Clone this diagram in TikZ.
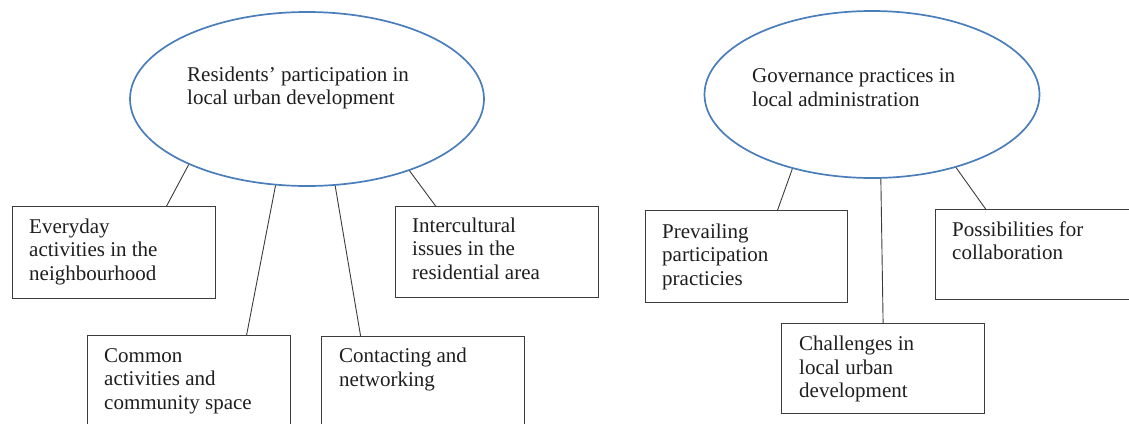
\documentclass[tikz,border=0pt]{standalone}
\usepackage{fontspec}
\setmainfont{Liberation Serif}
\usepackage{tikz}
\usetikzlibrary{shapes.geometric}
\usepackage{xcolor}

\definecolor{ellblue}{RGB}{74,126,187}
\definecolor{boxgray}{RGB}{60,60,60}
\definecolor{txtgray}{RGB}{30,30,30}

\tikzset{
  topic/.style={ellipse, draw=ellblue, line width=1.7pt, inner sep=0pt},
  itembox/.style={draw=boxgray, line width=1.2pt, anchor=north west, inner sep=0pt, minimum width=203pt, minimum height=92pt},
  itemtext/.style={anchor=base west, align=left, inner sep=0pt, text=txtgray, font=\fontsize{21}{23.5}\selectfont},
  link/.style={draw=boxgray, line width=0.9pt}
}

\begin{document}
\begin{tikzpicture}[x=1pt,y=-1pt]

\useasboundingbox (0,0) rectangle (1129,423);
\clip (0,0) rectangle (1129,423);

\node[topic, minimum width=354pt, minimum height=174pt] (res) at (307,99) {};
\node[itemtext] (restext) at (187,104.5) {Residents’ participation in\\local urban development};

\node[itembox] (every) at (12,206) {};
\node[itembox, minimum height=110pt] (common) at (87,335) {};
\node[itembox, minimum height=110pt] (contact) at (321,336) {};
\node[itembox, minimum height=91pt] (inter) at (395,206) {};

\node[itemtext] (everytext) at (29,280) {Everyday\\activities in the\\neighbourhood};
\node[itemtext] (commontext) at (104,409) {Common\\activities and\\community space};
\node[itemtext] (contacttext) at (339,386) {Contacting and\\networking};
\node[itemtext] (intertext) at (412,279) {Intercultural\\issues in the\\residential area};

\draw[link] (res.209.4) -- ([xshift=52.5pt]every.north);
\draw[link] (res.250) -- ([xshift=57.5pt]common.north);
\draw[link] (res.288.2) -- ([xshift=-62.5pt]contact.north);
\draw[link] (res.325.7) -- ([xshift=-61.5pt]inter.north);

\node[topic, minimum width=335pt, minimum height=167pt] (gov) at (872,94.5) {};
\node[itemtext] (govtext) at (752,106) {Governance practices in\\local administration};

\node[itembox, minimum width=202pt] (prevail) at (645,210) {};
\node[itembox, minimum height=90pt] (challenge) at (781,323) {};
\node[itembox, minimum width=203pt, minimum height=90pt] (possible) at (935,209) {};

\node[itemtext] (prevailtext) at (662,285) {Prevailing\\participation\\practicies};
\node[itemtext] (challengetext) at (799,397.5) {Challenges in\\local urban\\development};
\node[itemtext] (possibletext) at (952,259.5) {Possibilities for\\collaboration};

\draw[link] (gov.223.7) -- ([xshift=31pt]prevail.north);
\draw[link] (gov.276) -- (challenge.north);
\draw[link] (gov.319.8) -- ([xshift=-51.5pt]possible.north);

\end{tikzpicture}
\end{document}
